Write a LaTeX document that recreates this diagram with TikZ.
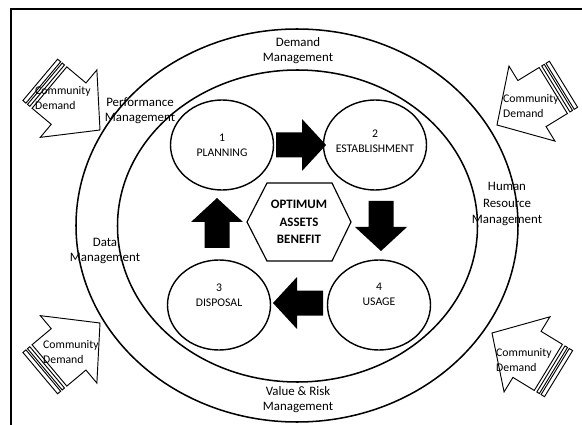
\documentclass[tikz,border=0pt]{standalone}
\usepackage{fontspec}
\setmainfont{Carlito}
\usetikzlibrary{shapes.geometric}

\begin{document}
\begin{tikzpicture}[x=0.03cm,y=-0.03cm,
  every node/.style={font=\fontsize{11}{12.8}\selectfont,align=center,inner sep=0pt},
  ring/.style={draw,line width=1.3pt},
  stage/.style={draw,ellipse,line width=1.2pt,minimum width=3.09cm,minimum height=2.7cm},
  stagetext/.style={font=\fontsize{10}{12.8}\selectfont},
  community/.style={font=\fontsize{10}{12.5}\selectfont,align=left,anchor=west},
  blockarrow/.pic={\fill (-26,-12.5) -- (0,-12.5) -- (0,-26) -- (24,0) -- (0,26) -- (0,12.5) -- (-26,12.5) -- cycle;},
  stripedarrow/.pic={
    \draw[fill=white,line width=0.8pt] (0,0) -- (-41,-44) -- (-41,-27) -- (-66,-27) -- (-66,27) -- (-41,27) -- (-41,44) -- cycle;
    \draw[fill=white,line width=0.8pt] (-69,-27) rectangle (-72,27);
    \draw[fill=white,line width=0.8pt] (-74,-27) rectangle (-78,27);
  }]
\useasboundingbox (0,0) rectangle (582,425);
% frame
\draw[line width=2pt] (11,425) -- (11,9) -- (582,9);
% rings
\draw[ring] (297,225.5) ellipse [x radius=221,y radius=196.5];
\draw[ring] (297.5,226) ellipse [x radius=180,y radius=156];
\node (demand) at (298,51) {Demand\\Management};
\node (value) at (298,400) {Value \& Risk\\Management};
\node (perf) at (140,111) {Performance\\Management};
\node (data) at (105,251) {Data\\Management};
\node[font=\fontsize{11}{14}\selectfont] (human) at (507,204) {Human\\Resource\\Management};
% stages
\node[stage] (plan) at (222,145) {};
\node[stage] (estab) at (375,145) {};
\node[stage] (disp) at (219,305) {};
\node[stage] (usage) at (379,305) {};
\node[stagetext] (plantxt) at (plan) {1\\PLANNING};
\node[stagetext] (estabtxt) at (375,141) {2\\ESTABLISHMENT};
\node[stagetext] (disptxt) at (219,295) {3\\DISPOSAL};
\node[stagetext] (usagetxt) at (379,294) {4\\USAGE};
\pic at (302,145) {blockarrow};
\pic[rotate=-90] at (381,227) {blockarrow};
\pic[rotate=90] at (217,222) {blockarrow};
\pic[rotate=180] at (297,303) {blockarrow};
% centre
\node[font=\fontsize{11}{14.9}\selectfont\bfseries] (hub) at (299,222) {OPTIMUM\\ASSETS\\BENEFIT};
\draw[line width=1pt] (hub.center) ++(-52,0) -- ++(20,-39) -- ++(65,0) -- ++(19,39) -- ++(-19,39) -- ++(-65,0) -- cycle;
% community demand
\pic[rotate=-40] at (100,130) {stripedarrow};
\pic[rotate=211.5] at (497,125) {stripedarrow};
\pic[rotate=40] at (100,323) {stripedarrow};
\pic[rotate=148.6] at (492,333) {stripedarrow};
\node[community] (cd1) at (35,98) {Community\\Demand};
\node[community] (cd2) at (503,106) {Community\\Demand};
\node[community] (cd3) at (43,352) {Community\\Demand};
\node[community] (cd4) at (496,360) {Community\\Demand};
\end{tikzpicture}
\end{document}
